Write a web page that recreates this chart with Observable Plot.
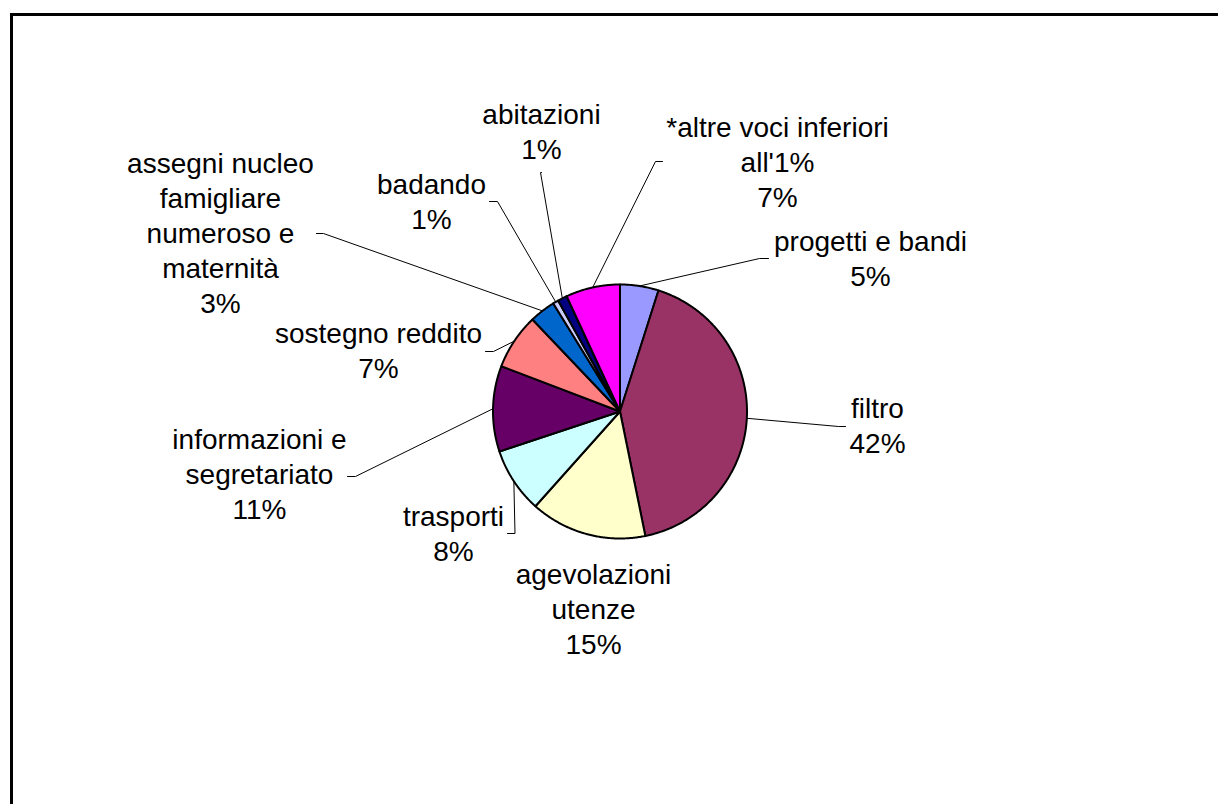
<!DOCTYPE html>
<html><head><meta charset="utf-8">
<script src="https://cdn.jsdelivr.net/npm/d3@7"></script>
<script src="https://cdn.jsdelivr.net/npm/@observablehq/plot@0.6"></script>
<style>
body{margin:0;background:#fff;}
#wrap{position:relative;width:1218px;height:804px;overflow:hidden;background:#fff;}
#frame{position:absolute;left:10px;top:13px;right:-10px;bottom:-10px;border-top:3px solid #000;border-left:3px solid #000;pointer-events:none;}
</style></head><body>
<div id="wrap"><div id="chart"></div><div id="frame"></div></div>
<script>
// ---- data ----
const categories = ["progetti e bandi", "filtro", "agevolazioni utenze", "trasporti", "informazioni e segretariato", "sostegno reddito", "assegni nucleo famigliare numeroso e maternità", "badando", "abitazioni", "*altre voci inferiori all'1%"];
const values = [4.9, 41.9, 14.8, 8.3, 10.9, 7.1, 3.3, 0.7, 1.2, 6.9];
const colors = ["#9999FF", "#993366", "#FFFFCC", "#CCFFFF", "#660066", "#FF8080", "#0066CC", "#CCCCFF", "#000080", "#FF00FF"];
const wrappedLabels = ["progetti e bandi", "filtro", "agevolazioni\nutenze", "trasporti", "informazioni e\nsegretariato", "sostegno reddito", "assegni nucleo\nfamigliare\nnumeroso e\nmaternità", "badando", "abitazioni", "*altre voci inferiori\nall'1%"];

// ---- layout (pixel units of the chart) ----
const center = {x: 619.5, y: 411};
const R = 127;
const labelAnchor = [[870, 285], [877, 452], [593, 653], [453, 560], [259, 518], [378, 377], [220, 312], [431, 228], [541, 158], [777, 206]];
const leaderTail = [[[759, 258], [768, 258]], [[838, 426], [845, 426]], null, [[514.5, 533], [507, 533]], [[355, 476], [347, 476]], [[493, 351], [485, 351]], [[323, 233], [316, 233]], [[497, 201], [489, 201]], [[540, 172], [541, 172]], [[655, 161], [662, 161]]];

const arcs = d3.pie().sort(null).value(d => d)(values);

const wedgePts = arcs.flatMap((a, i) => {
  const pts = [{k: i, x: center.x, y: center.y, c: colors[i]}];
  const n = Math.max(2, Math.ceil((a.endAngle - a.startAngle) / (Math.PI / 360)));
  for (let j = 0; j <= n; j++) {
    const t = a.startAngle + (a.endAngle - a.startAngle) * j / n;
    pts.push({k: i, x: center.x + R * Math.sin(t), y: center.y - R * Math.cos(t), c: colors[i]});
  }
  return pts;
});

const leaderPts = arcs.flatMap((a, i) => {
  if (!leaderTail[i]) return [];
  const m = (a.startAngle + a.endAngle) / 2;
  const start = {k: i, x: center.x + R * Math.sin(m), y: center.y - R * Math.cos(m)};
  return [start, ...leaderTail[i].map(([x, y]) => ({k: i, x, y}))];
});

const labels = categories.map((c, i) => ({
  text: wrappedLabels[i] + "\n" + Math.round(values[i]) + "%",
  x: labelAnchor[i][0],
  y: labelAnchor[i][1]
}));

const chart = Plot.plot({
  width: 1218,
  height: 804,
  margin: 0,
  style: {background: "white", overflow: "visible"},
  x: {domain: [0, 1218], range: [0, 1218], axis: null},
  y: {domain: [0, 804], range: [0, 804], axis: null},
  color: {type: "identity"},
  marks: [
    Plot.line(wedgePts, {x: "x", y: "y", z: "k", fill: "c", stroke: "black", strokeWidth: 2, strokeLinejoin: "round", curve: "linear-closed"}),
    Plot.line(leaderPts, {x: "x", y: "y", z: "k", stroke: "black", strokeWidth: 1}),
    Plot.text(labels, {x: "x", y: "y", text: "text", textAnchor: "middle", lineAnchor: "bottom", lineHeight: 1.25, fontSize: 28, fontFamily: "Liberation Sans, Arial, sans-serif", fill: "black"})
  ]
});
document.getElementById("chart").appendChild(chart);
</script>
</body></html>
